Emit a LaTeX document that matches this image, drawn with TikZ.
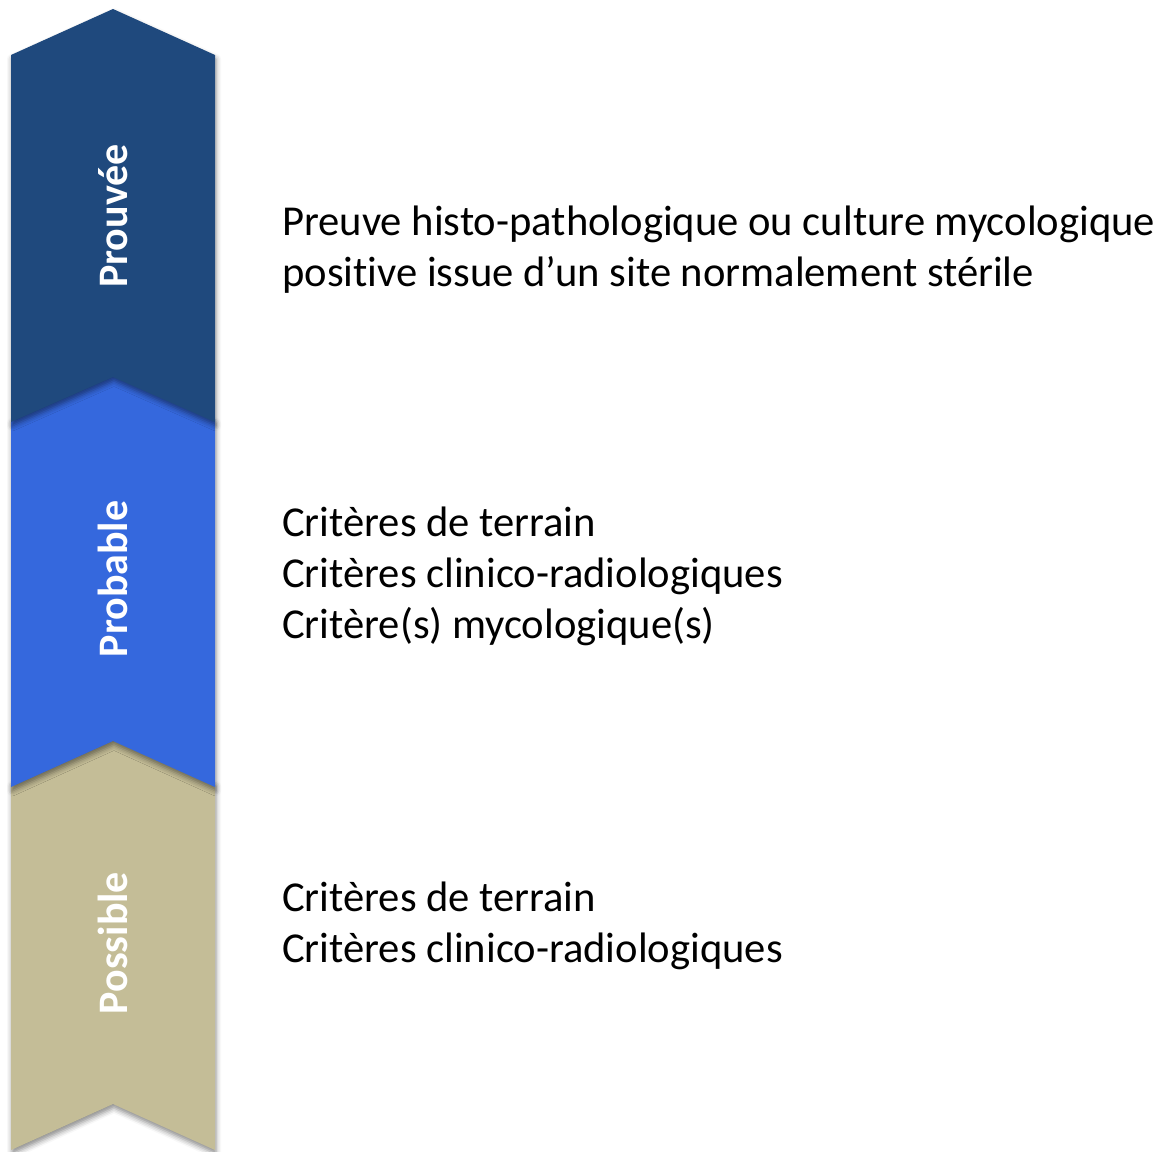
\documentclass[tikz,border=0pt]{standalone}
\usepackage{fontspec}
\setmainfont{Carlito}[Ligatures={NoCommon}]
\usetikzlibrary{shadows.blur}
\definecolor{cProuvee}{RGB}{31,73,125}
\definecolor{cProbable}{RGB}{53,104,221}
\definecolor{cPossible}{RGB}{196,189,151}
\tikzset{
  chev/.style={blur shadow={shadow xshift=1pt, shadow yshift=-4pt, shadow blur radius=5pt, shadow opacity=45}},
  lab/.style={rotate=90, anchor=base, text=white, font=\fontsize{42}{48}\selectfont\bfseries, inner sep=0pt},
  txt/.style={anchor=base west, font=\fontsize{42.6}{50}\selectfont, inner sep=0pt, text=black}
}
\begin{document}
\begin{tikzpicture}[x=1pt,y=-1pt]
\useasboundingbox (0,0) rectangle (1161,1151);
% chevrons, drawn bottom first
\fill[cPossible, chev] (11,782) -- (113,736) -- (215,782) -- (215,1150) -- (113,1104) -- (11,1150) -- cycle;
\fill[cProbable, chev] (11,419) -- (113,373) -- (215,419) -- (215,787) -- (113,741) -- (11,787) -- cycle;
\fill[cProuvee, chev] (11,55) -- (113,9) -- (215,55) -- (215,422) -- (113,377) -- (11,422) -- cycle;
% labels
\node[lab] (lprouvee) at (127,216) {Prouvée};
\node[lab] (lprobable) at (127,579) {Probable};
\node[lab] (lpossible) at (127,943) {Possible};
% texts
\node[txt] (t1a) at (282,235) {Preuve histo-pathologique ou culture mycologique};
\node[txt] (t1b) at (282,286) {positive issue d’un site normalement stérile};
\node[txt] (t2a) at (282,536) {Critères de terrain};
\node[txt] (t2b) at (282,587) {Critères clinico-radiologiques};
\node[txt] (t2c) at (282,638) {Critère(s) mycologique(s)};
\node[txt] (t3a) at (282,911) {Critères de terrain};
\node[txt] (t3b) at (282,962) {Critères clinico-radiologiques};
\end{tikzpicture}
\end{document}
